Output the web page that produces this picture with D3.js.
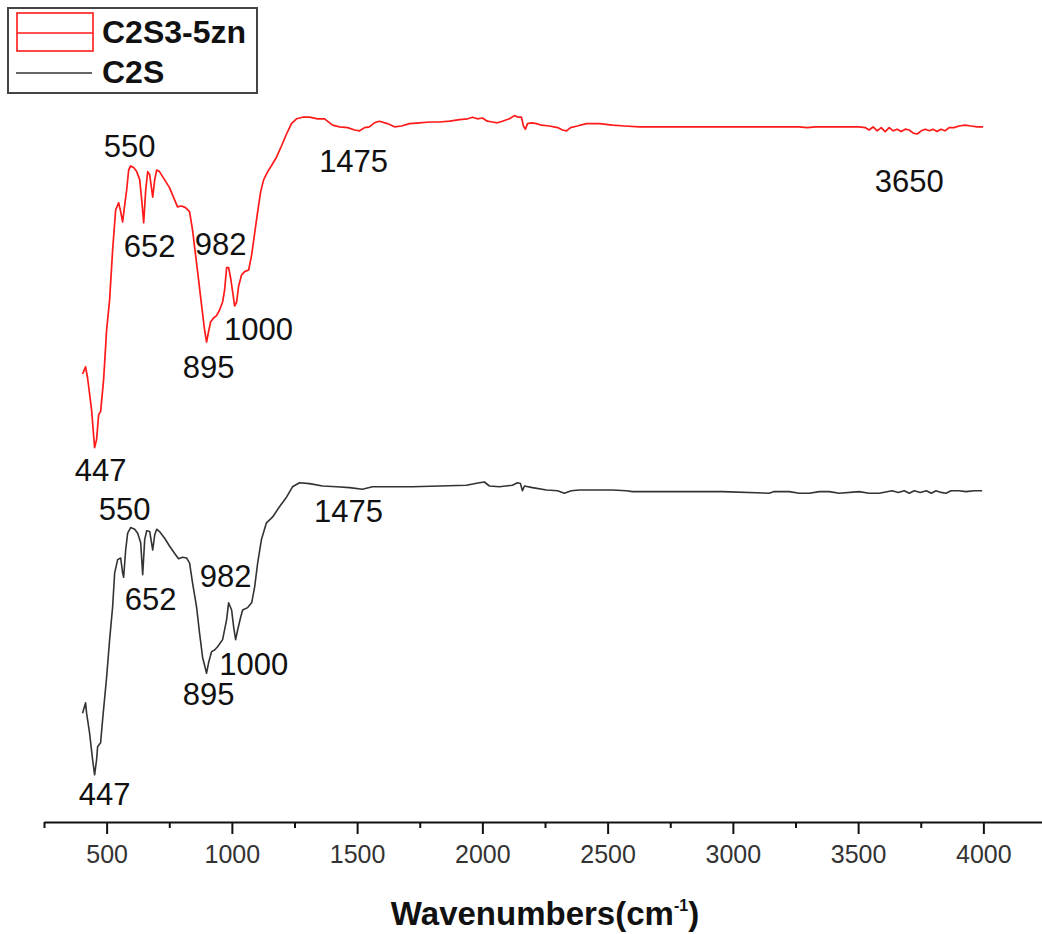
<!DOCTYPE html>
<html>
<head>
<meta charset="utf-8">
<script src="https://cdn.jsdelivr.net/npm/d3@7"></script>
<style>
  body { margin: 0; background: #fff; }
  text { font-family: "Liberation Sans", Arial, sans-serif; }
</style>
</head>
<body>
<div id="chart-container"></div>
<script>
// FTIR spectra: [wavenumber, transmittance (a.u.)]

const seriesNames = ["C2S3-5zn", "C2S"];

const c2s35zn = [
  [404,57.0],[416,57.9],[424,56.5],[440,52.5],[452,47.8],[460,48.8],[468,51.9],[476,52.3],[488,56.3],
  [500,62.5],[512,66.3],[524,72.5],[536,77.5],[548,78.4],[556,77.3],[564,76.0],[572,78.1],[580,80.0],
  [588,82.5],[596,83.0],[608,82.8],[620,82.3],[632,81.3],[640,78.8],[648,75.9],[656,80.0],[664,82.3],
  [672,81.9],[684,79.1],[692,81.3],[700,82.5],[711,82.3],[731,81.3],[751,80.3],[771,78.8],[783,77.9],
  [799,78.0],[815,77.8],[831,77.3],[843,75.0],[855,71.9],[867,68.8],[879,65.6],[891,62.5],[899,61.0],
  [907,62.3],[915,63.5],[927,64.0],[939,64.3],[951,65.0],[963,66.0],[971,67.5],[979,70.3],[987,70.3],
  [995,69.0],[1003,67.3],[1011,65.5],[1019,66.0],[1027,68.0],[1039,69.4],[1051,69.8],[1067,70.0],
  [1079,71.9],[1091,74.6],[1103,77.3],[1115,79.8],[1127,81.3],[1143,82.3],[1159,83.1],[1178,84.1],
  [1198,85.5],[1218,87.0],[1238,88.3],[1258,88.9],[1282,89.1],[1310,89.1],[1342,88.9],[1370,88.9],
  [1402,88.1],[1430,87.9],[1462,87.8],[1490,87.5],[1510,87.4],[1530,87.8],[1549,87.9],[1569,88.4],
  [1589,88.6],[1621,88.3],[1649,87.9],[1677,88.0],[1709,88.3],[1749,88.4],[1789,88.5],[1829,88.5],
  [1869,88.6],[1909,88.8],[1941,88.9],[1961,89.1],[1980,88.9],[2000,89.0],[2020,88.6],[2040,88.5],
  [2060,88.4],[2080,88.6],[2108,88.9],[2128,89.3],[2144,89.1],[2156,89.1],[2164,88.0],[2172,87.6],
  [2180,88.3],[2196,88.4],[2216,88.3],[2236,88.1],[2268,88.0],[2300,87.8],[2320,87.5],[2336,87.4],
  [2352,87.8],[2379,88.0],[2415,88.3],[2467,88.3],[2519,88.1],[2567,88.0],[2627,87.9],[2707,87.9],
  [3265,87.9],[3297,87.8],[3330,87.9],[3504,87.9],[3528,87.8],[3544,87.5],[3560,87.9],[3576,87.4],
  [3592,87.8],[3608,87.3],[3624,87.8],[3640,87.4],[3656,87.6],[3672,87.3],[3688,87.6],[3704,87.5],
  [3720,87.1],[3736,87.0],[3752,87.4],[3768,87.6],[3784,87.4],[3799,87.6],[3815,87.3],[3831,87.6],
  [3847,87.4],[3863,87.8],[3883,87.8],[3903,88.0],[3927,88.1],[3951,88.0],[3975,87.9],[3999,87.9]
];

const c2s = [
  [404,14.6],[416,15.9],[420,14.6],[432,12.1],[444,8.8],[452,6.9],[460,8.8],[464,10.4],[476,10.9],
  [484,13.8],[500,19.1],[512,23.8],[524,27.9],[532,32.1],[544,33.8],[556,34.0],[564,32.1],[568,31.6],
  [576,35.0],[584,37.1],[596,37.8],[612,37.6],[624,37.1],[636,35.9],[644,31.9],[652,36.3],[660,37.4],
  [672,37.3],[684,35.0],[692,36.9],[700,37.6],[711,37.3],[731,36.5],[751,35.5],[771,34.6],[787,33.9],
  [803,34.1],[819,34.0],[831,33.4],[843,30.9],[859,27.9],[871,24.6],[883,21.6],[899,19.6],[907,20.9],
  [919,22.3],[931,22.5],[943,22.9],[963,23.8],[979,26.3],[987,28.4],[999,27.5],[1007,25.4],[1015,23.8],
  [1023,25.0],[1035,26.6],[1043,27.5],[1063,27.8],[1079,28.4],[1091,30.4],[1103,33.4],[1118,36.3],
  [1138,38.4],[1162,39.1],[1190,40.4],[1218,41.6],[1242,42.9],[1270,43.4],[1310,43.3],[1362,43.0],
  [1418,42.9],[1470,42.8],[1521,42.6],[1561,42.9],[1589,42.9],[1721,42.9],[1829,43.0],[1936,43.1],
  [1988,43.4],[2008,43.5],[2028,43.0],[2068,42.9],[2120,43.1],[2140,43.4],[2152,43.3],[2160,42.4],
  [2168,43.0],[2200,42.8],[2256,42.5],[2300,42.4],[2327,42.1],[2355,42.4],[2387,42.5],[2519,42.5],
  [2575,42.4],[2599,42.3],[2695,42.3],[2958,42.3],[3145,42.1],[3165,42.3],[3225,42.3],[3265,42.1],
  [3305,42.1],[3345,42.3],[3385,42.3],[3425,42.1],[3504,42.3],[3544,42.1],[3584,42.1],[3636,42.4],
  [3660,42.2],[3684,42.4],[3704,42.1],[3724,42.4],[3748,42.2],[3772,42.4],[3792,42.1],[3811,42.4],
  [3831,42.2],[3851,42.1],[3871,42.4],[3903,42.4],[3931,42.3],[3963,42.4],[3995,42.4]
];

// peak labels: [text, wavenumber, transmittance] for the label anchor
const redLabels = [
  ["550",592,84.1],["652",672,71.6],["982",955,71.9],["1000",1106,61.3],["895",907,56.5],
  ["447",476,43.6],["1475",1486,82.3],["3650",3704,79.8]
];
const blackLabels = [
  ["550",572,38.8],["652",676,27.5],["982",975,30.4],["1000",1087,19.4],["895",907,15.6],
  ["447",492,3.1],["1475",1466,38.5]
];

const majorTicks = [500,1000,1500,2000,2500,3000,3500,4000];
const minorTicks = [250,750,1250,1750,2250,2750,3250,3750,4250];

const W = 1042, H = 934;

const svg = d3.select("#chart-container")
  .append("svg")
  .attr("width", W)
  .attr("height", H);

const xScale = d3.scaleLinear().domain([250, 4250]).range([44, 1046]);
const yScale = d3.scaleLinear().domain([0, 100]).range([830, 30]);
const axisY = 822;

//lines
const line = d3.line()
  .x(d => xScale(d[0]))
  .y(d => yScale(d[1]));

svg.append("path")
  .datum(c2s35zn)
  .attr("fill", "none")
  .attr("stroke", "#ff1a1a")
  .attr("stroke-width", 1.7)
  .attr("stroke-linejoin", "round")
  .attr("d", line);

svg.append("path")
  .datum(c2s)
  .attr("fill", "none")
  .attr("stroke", "#333")
  .attr("stroke-width", 1.6)
  .attr("stroke-linejoin", "round")
  .attr("d", line);

//x axis
svg.append("g")
  .attr("transform", `translate(0,${axisY})`)
  .call(d3.axisBottom(xScale).tickValues(minorTicks).tickSize(6).tickFormat(""))
  .call(g => g.select(".domain").remove())
  .selectAll(".tick line")
    .attr("stroke", "#111")
    .attr("stroke-width", 2);

svg.append("g")
  .attr("transform", `translate(0,${axisY})`)
  .call(d3.axisBottom(xScale).tickValues(majorTicks).tickFormat(d3.format("d"))
    .tickSize(12).tickPadding(11).tickSizeOuter(0))
  .call(g => g.select(".domain").attr("stroke", "#111").attr("stroke-width", 2.2))
  .call(g => g.selectAll(".tick line").attr("stroke", "#111").attr("stroke-width", 2))
  .selectAll(".tick text")
    .attr("fill", "#333")
    .style("font-size", "25px");

//axis title
const title = svg.append("text")
  .attr("x", 545)
  .attr("y", 925)
  .attr("text-anchor", "middle")
  .style("font-size", "33px")
  .style("font-weight", "bold")
  .attr("fill", "#111");
title.append("tspan").text("Wavenumbers(cm");
title.append("tspan").attr("dy", -14).style("font-size", "16px").text("-1");
title.append("tspan").attr("dy", 14).text(")");

//peak labels
function addLabels(list) {
  svg.append("g")
    .selectAll("text")
    .data(list)
    .join("text")
    .attr("x", d => xScale(d[1]))
    .attr("y", d => yScale(d[2]))
    .attr("text-anchor", "middle")
    .attr("fill", "#111")
    .style("font-size", "31px")
    .text(d => d[0]);
}
addLabels(redLabels);
addLabels(blackLabels);

//legend
const legend = svg.append("g");
legend.append("rect")
  .attr("x", 8).attr("y", 8)
  .attr("width", 249).attr("height", 85)
  .attr("fill", "#fff")
  .attr("stroke", "#444")
  .attr("stroke-width", 2);

legend.append("rect")
  .attr("x", 17).attr("y", 13)
  .attr("width", 76).attr("height", 38)
  .attr("fill", "none")
  .attr("stroke", "#ff1a1a")
  .attr("stroke-width", 1.6);
legend.append("line")
  .attr("x1", 17).attr("x2", 93)
  .attr("y1", 33).attr("y2", 33)
  .attr("stroke", "#ff1a1a")
  .attr("stroke-width", 1.6);
legend.append("line")
  .attr("x1", 16).attr("x2", 92)
  .attr("y1", 73).attr("y2", 73)
  .attr("stroke", "#333")
  .attr("stroke-width", 1.6);

legend.selectAll(".lg")
  .data(seriesNames)
  .join("text")
  .attr("class", "lg")
  .attr("x", 102)
  .attr("y", (d, i) => 43 + i * 40)
  .style("font-size", "32px")
  .style("font-weight", "bold")
  .attr("fill", "#111")
  .text(d => d);
</script>
</body>
</html>
